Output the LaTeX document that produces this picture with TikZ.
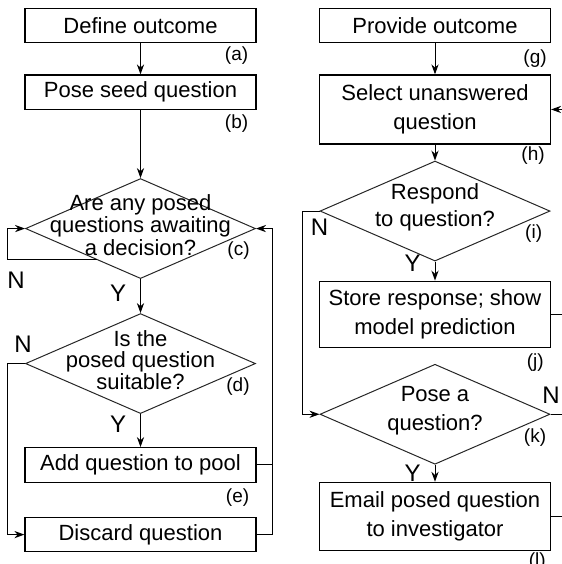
\documentclass[tikz,border=0pt]{standalone}
\usepackage{fontspec}
\setmainfont{Liberation Sans}
\usepackage{tikz}
\usetikzlibrary{shapes.geometric, arrows.meta, positioning, calc}

\begin{document}
\begin{tikzpicture}[x=0.5pt, y=0.5pt, font=\fontsize{11}{14.5}\selectfont]
    \tikzstyle{box} = [rectangle, draw=black, line width=0.6pt, minimum width=115.5pt, minimum height=17.25pt, inner xsep=2pt, inner ysep=0pt, align=center]
    \tikzstyle{decision} = [diamond, draw=black!85, line width=0.5pt, minimum width=115pt, minimum height=50pt, inner sep=0pt]
    \tikzstyle{qtext} = [align=center, inner sep=0pt, yshift=1.75pt]
    \tikzstyle{lettertag} = [inner sep=0pt, font=\fontsize{9.5}{11}\selectfont]
    \tikzstyle{yn} = [inner sep=0pt, font=\fontsize{12}{14}\selectfont]
    \tikzstyle{arrow} = [line width=0.5pt, -{Stealth[length=5pt,width=3.6pt]}]
    \tikzstyle{link} = [line width=0.5pt]

    \useasboundingbox (0,0) rectangle (562,-564);

    % left column
    \node (define) [box] at (140.5,-25.5) {Define outcome};
    \node (seed) [box, below=15.5pt of define] {Pose seed question};
    \node (pending) [decision, below=34pt of seed] {};
    \node (pendingtext) [qtext, font=\fontsize{11}{11.25}\selectfont] at (pending) {Are any posed\\questions awaiting\\a decision?};
    \node (suitable) [decision, below=17pt of pending] {};
    \node (suitabletext) [qtext, font=\fontsize{11}{10.75}\selectfont] at (suitable) {Is the\\posed question\\suitable?};
    \node (addpool) [box, below=16.5pt of suitable] {Add question to pool};
    \node (discard) [box, below=17pt of addpool] {Discard question};

    \node (taga) [lettertag, below left=1.5pt and 4pt of define.south east] {(a)};
    \node (tagb) [lettertag, below left=2pt and 4pt of seed.south east] {(b)};
    \node (tagc) [lettertag, below left=6.5pt and 3pt of pending.east] {(c)};
    \node (tagd) [lettertag, below left=7pt and 3pt of suitable.east] {(d)};
    \node (tage) [lettertag, below left=3pt and 3.5pt of addpool.south east] {(e)};

    \draw [arrow] (define) -- (seed);
    \draw [arrow] (seed) -- (pending);
    \draw [arrow] (pending) -- (suitable);
    \draw [arrow] (suitable) -- (addpool);

    \coordinate (pendingedge) at ($(pending.west)!0.62!(pending.south)$);
    \coordinate (pendingn) at ($(pending.west |- pendingedge) + (-9pt,0)$);
    \draw [arrow] (pendingedge) -- (pendingn) |- (pending.west);
    \node (pendingno) [yn, below right=6pt and 0pt of pendingn] {N};
    \node (pendingyes) [yn, below left=3pt and 7pt of pending.south] {Y};

    \draw [arrow] (suitable.west) -- ++(-9pt,0) coordinate (suitablen) |- (discard.west);
    \node (suitableno) [yn, above right=5.5pt and 3.5pt of suitablen] {N};
    \node (suitableyes) [yn, below left=1pt and 7pt of suitable.south] {Y};

    \coordinate (back) at ($(discard.east)+(8pt,0)$);
    \draw [arrow] (discard.east) -- (back) |- (pending.east);
    \draw [link] (addpool.east) -- (addpool.east -| back);

    % right column
    \node (provide) [box] at (435,-25.5) {Provide outcome};
    \node (select) [box, minimum height=34.5pt, below=15.5pt of provide] {Select unanswered\\question};
    \node (respond) [decision, below=8pt of select] {};
    \node (respondtext) [qtext, font=\fontsize{11}{13.25}\selectfont] at (respond) {Respond\\to question?};
    \node (store) [box, minimum height=33pt, below=9.5pt of respond] {Store response; show\\model prediction};
    \node (posequestion) [decision, below=8pt of store] {};
    \node (posetext) [qtext] at (posequestion) {Pose a\\question?};
    \node (email) [box, minimum height=34pt, below=8.5pt of posequestion] {Email posed question\\to investigator};

    \node (tagg) [lettertag, below left=3pt and 2pt of provide.south east] {(g)};
    \node (tagh) [lettertag, below left=1pt and 3pt of select.south east] {(h)};
    \node (tagi) [lettertag, below left=6.5pt and 4pt of respond.east] {(i)};
    \node (tagj) [lettertag, below left=2.75pt and 3.5pt of store.south east] {(j)};
    \node (tagk) [lettertag, below left=7pt and 2pt of posequestion.east] {(k)};
    \node (tagl) [lettertag, below left=0.5pt and 2.5pt of email.south east] {(l)};

    \draw [arrow] (provide) -- (select);
    \draw [arrow] (select) -- (respond);
    \draw [arrow] (respond) -- (store);
    \draw [arrow] (posequestion) -- (email);

    \draw [arrow] (respond.west) -- ++(-8.5pt,0) coordinate (respondn) |- (posequestion.west);
    \node (respondno) [yn, below right=4pt and 4pt of respondn] {N};
    \node (respondyes) [yn, left=7pt of respond.south, yshift=-1pt] {Y};
    \node (poseyes) [yn, below left=0pt and 7pt of posequestion.south] {Y};

    \coordinate (edge) at (562,0);
    \draw [link] (store.east) -- (store.east -| edge);
    \draw [link] (posequestion.east) -- (posequestion.east -| edge) coordinate (poseout);
    \node (poseno) [yn, above left=5pt and 1pt of poseout] {N};
    \draw [link] (email.east) -- (email.east -| edge);
    \draw [arrow] (select.east -| edge) -- (select.east);
\end{tikzpicture}
\end{document}
